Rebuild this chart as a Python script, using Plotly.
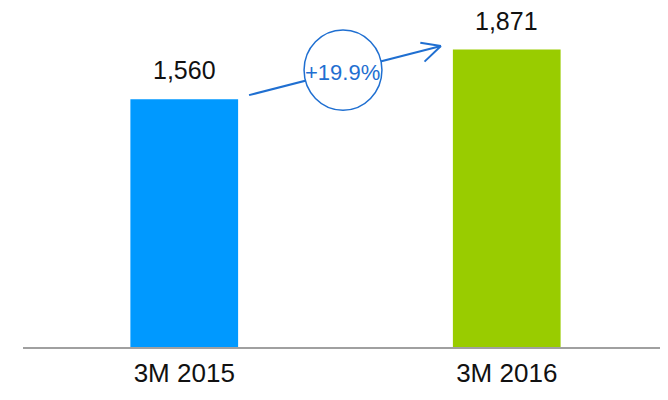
import plotly.graph_objects as go

categories = ["3M 2015", "3M 2016"]
values = [1560, 1871]
value_labels = ["1,560", "1,871"]
colors = ["#0099FF", "#99CC00"]
growth_label = "+19.9%"

FONT = "Liberation Sans, Arial, sans-serif"
BLUE = "#1F6FD1"

fig = go.Figure()
fig.add_trace(go.Bar(
    x=[0, 1], y=values, marker=dict(color=colors, line=dict(width=0)),
    width=0.334, hoverinfo="skip",
))

for i, (v, t) in enumerate(zip(values, value_labels)):
    fig.add_annotation(x=i, y=v, text=t, showarrow=False, yanchor="bottom",
                       yshift=13, font=dict(family=FONT, size=25, color="#111111"))

# baseline (extends to the right edge)
fig.add_shape(type="line", xref="paper", yref="paper", x0=0, x1=1.03, y0=0, y1=0,
              line=dict(color="#A0A0A0", width=2), layer="above")

# arrow line
fig.add_shape(type="line", x0=0.201, y0=1585, x1=0.796, y1=1893,
              line=dict(color=BLUE, width=2), layer="above")
# chevron head
fig.add_shape(type="line", x0=0.796, y0=1893, x1=0.732, y1=1914,
              line=dict(color=BLUE, width=2), layer="above")
fig.add_shape(type="line", x0=0.796, y0=1893, x1=0.745, y1=1795,
              line=dict(color=BLUE, width=2), layer="above")
# circle
fig.add_shape(type="circle", x0=0.3715, y0=1491, x1=0.613, y1=1994,
              line=dict(color=BLUE, width=1.5), fillcolor="white", layer="above")
fig.add_annotation(x=0.492, y=1730, text=growth_label, showarrow=False,
                   font=dict(family=FONT, size=22, color=BLUE))

fig.update_layout(
    width=668, height=400,
    margin=dict(l=14.5, r=7.5, t=5, b=60),
    plot_bgcolor="white", paper_bgcolor="white",
    showlegend=False,
    xaxis=dict(range=[-0.5, 1.5], tickmode="array", tickvals=[0, 1], ticktext=categories,
               showgrid=False, zeroline=False, showline=False,
               ticks="", ticklabelstandoff=7, automargin=False,
               tickfont=dict(family=FONT, size=26, color="#111111")),
    yaxis=dict(range=[0, 2100], visible=False, showgrid=False, zeroline=False),
)

fig.write_html("out.html")
